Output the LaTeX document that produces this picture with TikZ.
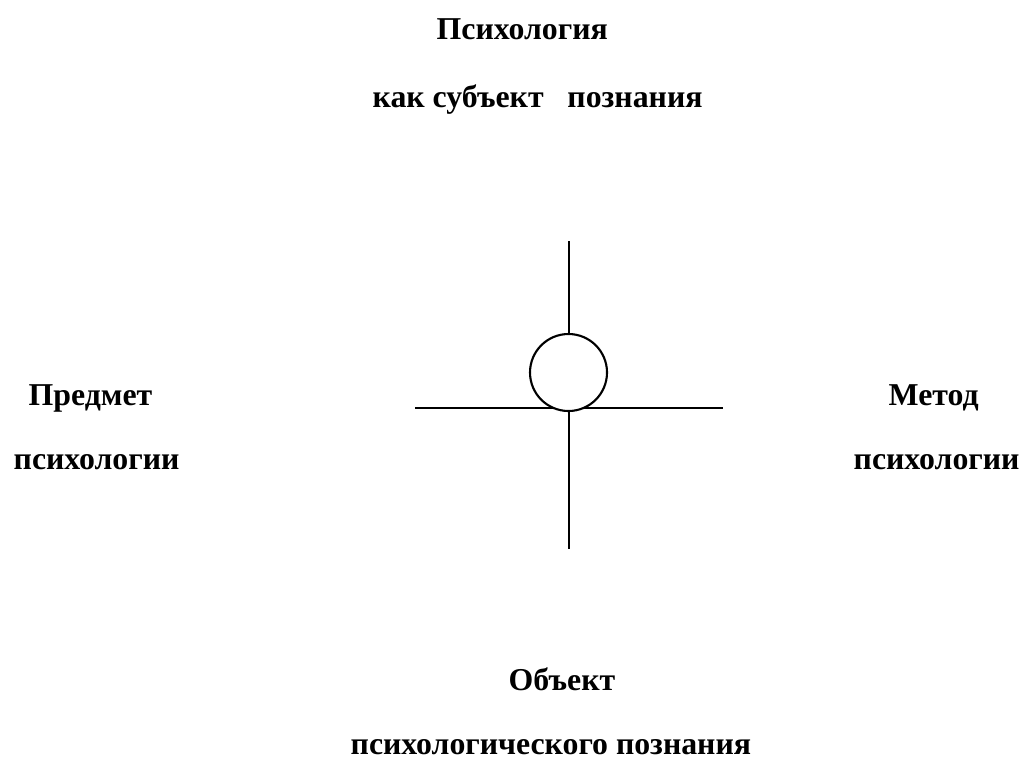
\documentclass[tikz,border=0pt]{standalone}
\usepackage{fontspec}
\setmainfont{Liberation Serif}
\usepackage{tikz}
\usetikzlibrary{positioning}

\begin{document}
\begin{tikzpicture}[
  lbl/.style={font=\fontsize{9.05pt}{11pt}\selectfont\bfseries,inner sep=0pt,anchor=base west},
  axis/.style={line width=0.6pt,black},
  hubc/.style={draw,circle,line width=0.6pt,fill=white,minimum size=0.77cm,inner sep=0pt}
]
  \useasboundingbox (0,0) rectangle (10.22,7.61);
  % Labels round the cross
  \node[lbl] (psy) at (4.36,7.22) {Психология};
  \node[lbl] (subj) at (3.72,6.54) {как субъект\ \ \ познания};
  \node[lbl] (pred) at (0.28,3.56) {Предмет};
  \node[lbl] (predpsy) at (0.13,2.92) {психологии};
  \node[lbl] (met) at (8.88,3.56) {Метод};
  \node[lbl] (metpsy) at (8.53,2.92) {психологии};
  \node[lbl] (obj) at (5.08,0.71) {Объект};
  \node[lbl] (objpsy) at (3.50,0.07) {психологического познания};
  % Cross
  \coordinate (top) at (5.69,5.20);
  \coordinate (bot) at (5.69,2.12);
  \coordinate (lft) at (4.15,3.53);
  \coordinate (rgt) at (7.23,3.53);
  \draw[axis] (top) -- (bot);
  \draw[axis] (lft) -- (rgt);
  \node[hubc] (hub) at (5.685,3.885) {};
\end{tikzpicture}
\end{document}
